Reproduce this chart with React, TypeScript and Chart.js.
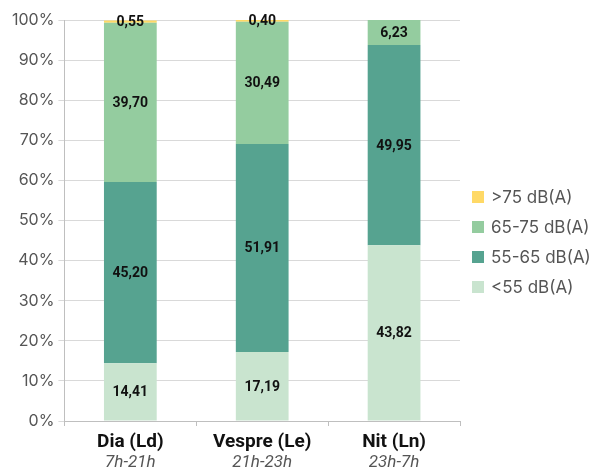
import React, { useEffect, useRef } from "react";
import { Chart, registerables } from "chart.js";

Chart.register(...registerables);

const categories = ["Dia (Ld)", "Vespre (Le)", "Nit (Ln)"];
const subtitles = ["7h-21h", "21h-23h", "23h-7h"];
const seriesNames = ["<55 dB(A)", "55-65 dB(A)", "65-75 dB(A)", ">75 dB(A)"];
const lt55 = [14.41, 17.19, 43.82];
const s55to65 = [45.2, 51.91, 49.95];
const s65to75 = [39.7, 30.49, 6.23];
const gt75 = [0.55, 0.4, 0];
const yTicks = [0, 10, 20, 30, 40, 50, 60, 70, 80, 90, 100];
const colors = ["#C9E4CF", "#56A390", "#94CC9F", "#FFD966"];

const FONT = "Roboto, 'DejaVu Sans', sans-serif";
const LIGHT = "Inter, Roboto, sans-serif";

const dataLabelPlugin = {
  id: "dataLabels",
  afterDatasetsDraw(chart: any) {
    const ctx = chart.ctx;
    ctx.save();
    ctx.font = `bold 14px ${FONT}`;
    ctx.fillStyle = "#111";
    ctx.textAlign = "center";
    ctx.textBaseline = "middle";
    chart.data.datasets.forEach((ds: any, di: number) => {
      const meta = chart.getDatasetMeta(di);
      meta.data.forEach((el: any, i: number) => {
        const v = ds.data[i];
        if (!v) return;
        const y = (el.y + el.base) / 2;
        ctx.fillText(v.toFixed(2).replace(".", ","), el.x, y + 1);
      });
    });
    ctx.restore();
  },
};

const xLabelPlugin = {
  id: "xLabels",
  afterDraw(chart: any) {
    const ctx = chart.ctx;
    const xs = chart.scales.x;
    const bottom = chart.chartArea.bottom;
    ctx.save();
    ctx.textAlign = "center";
    ctx.textBaseline = "middle";
    categories.forEach((c, i) => {
      const x = xs.getPixelForValue(i);
      ctx.font = `bold 19px ${FONT}`;
      ctx.fillStyle = "#111";
      ctx.fillText(c, x, bottom + 21);
      ctx.font = `italic 17px ${FONT}`;
      ctx.fillStyle = "#555";
      ctx.fillText(subtitles[i], x, bottom + 42);
    });
    ctx.restore();
  },
};

const legendPlugin = {
  id: "customLegend",
  afterDraw(chart: any) {
    const ctx = chart.ctx;
    const ds = chart.data.datasets;
    const boxX = chart.chartArea.right + 12;
    const startY = 197;
    const step = 30;
    ctx.save();
    ctx.textBaseline = "middle";
    ctx.textAlign = "left";
    ctx.font = `17px ${LIGHT}`;
    for (let k = 0; k < ds.length; k++) {
      const d = ds[ds.length - 1 - k];
      const cy = startY + k * step;
      ctx.fillStyle = d.backgroundColor;
      ctx.fillRect(boxX, cy - 6, 12, 12);
      ctx.fillStyle = "#555";
      ctx.fillText(d.label, boxX + 19, cy + 1);
    }
    ctx.restore();
  },
};

export default function App() {
  const ref = useRef<HTMLCanvasElement>(null);
  useEffect(() => {
    if (!ref.current) return;
    const chart = new Chart(ref.current, {
      type: "bar",
      data: {
        labels: categories,
        datasets: [lt55, s55to65, s65to75, gt75].map((d, i) => ({
          label: seriesNames[i],
          data: d,
          backgroundColor: colors[i],
          borderWidth: 0,
          categoryPercentage: 1,
          barPercentage: 0.4,
        })),
      },
      options: {
        animation: false,
        responsive: false,
        maintainAspectRatio: false,
        layout: { padding: { top: 20, bottom: 44, left: 8, right: 132 } },
        plugins: {
          tooltip: { enabled: false },
          legend: { display: false },
        },
        scales: {
          x: {
            stacked: true,
            grid: {
              display: true,
              drawOnChartArea: false,
              drawTicks: true,
              tickLength: 5,
              color: "#bfbfbf",
              offset: true,
            },
            border: { color: "#bfbfbf" },
            ticks: { display: false },
          },
          y: {
            stacked: true,
            min: 0,
            max: 100,
            afterBuildTicks(scale: any) {
              scale.ticks = yTicks.map((v) => ({ value: v }));
            },
            grid: { color: "#d9d9d9", tickLength: 6 },
            border: { color: "#bfbfbf" },
            ticks: {
              color: "#555",
              font: { size: 16, family: LIGHT },
              padding: 4,
              callback: (v: any) => v + "%",
            },
          },
        },
      },
      plugins: [dataLabelPlugin, xLabelPlugin, legendPlugin],
    });
    return () => chart.destroy();
  }, []);
  return (
    <div style={{ position: "fixed", left: 0, top: 0, width: 592, height: 470, background: "#fff" }}>
      <canvas ref={ref} width={592} height={470} />
    </div>
  );
}
